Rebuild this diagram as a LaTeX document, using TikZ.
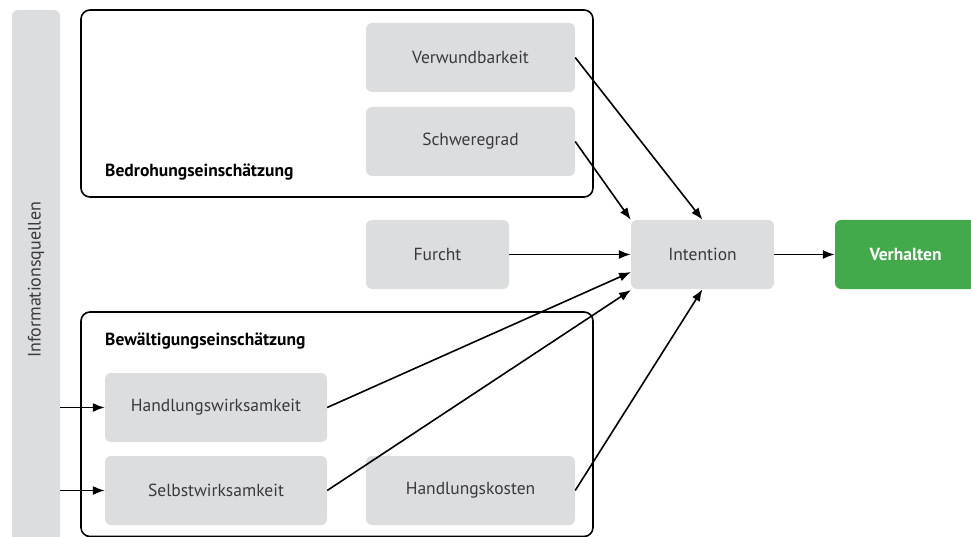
\documentclass[tikz,border=0pt]{standalone}
\usepackage{fontspec}
\setmainfont{PT Sans}
\usetikzlibrary{arrows.meta}
\definecolor{boxgray}{HTML}{DCDDDF}
\definecolor{txtgray}{HTML}{3A3A3C}
\definecolor{actgreen}{HTML}{43AA4B}
\begin{document}
\begin{tikzpicture}[x=1pt,y=-1pt,
  box/.style={fill=boxgray, rounded corners=6pt, inner sep=0pt, text=txtgray,
              font=\fontsize{17.5}{20}\selectfont},
  group/.style={draw=black, line width=1.6pt, rounded corners=9pt},
  grouplabel/.style={anchor=base west, inner sep=0pt, font=\fontsize{17.5}{20}\selectfont\bfseries},
  link/.style={line width=1.6pt, -{Latex[length=12pt,width=9pt]}}]
\useasboundingbox (0,0) rectangle (971,537);

% information sources bar on the left
\fill[boxgray, rounded corners=6pt] (12,10) rectangle (60,570);
\node[rotate=90, text=txtgray, font=\fontsize{18}{20}\selectfont] (info) at (36,280) {Informationsquellen};

% threat appraisal group
\draw[group] (81,10) rectangle (593,197);
\node[grouplabel] (threat) at (105,177) {Bedrohungseinschätzung};

% coping appraisal group
\draw[group] (81,312) rectangle (593,536.5);
\node[grouplabel] (coping) at (105,345) {Bewältigungseinschätzung};

% components
\node[box, minimum width=209pt, minimum height=69pt] (verw) at (470.5,57.5) {Verwundbarkeit};
\node[box, minimum width=209pt, minimum height=69pt] (schw) at (470.5,141.5) {Schweregrad};
\node[box, minimum width=143pt, minimum height=69pt] (furcht) at (437.5,254.5) {Furcht};
\node[box, minimum width=143pt, minimum height=69pt] (intent) at (702.5,254.5) {Intention};
\node[box, fill=actgreen, text=white, font=\fontsize{17.5}{20}\selectfont\bfseries,
      minimum width=150pt, minimum height=69pt, text width=135pt, align=left] (verh) at (910,254.5) {\hspace*{27pt}Verhalten};
\node[box, minimum width=222pt, minimum height=69pt] (handw) at (216,407.5) {Handlungswirksamkeit};
\node[box, minimum width=222pt, minimum height=69pt] (selbst) at (216,490.5) {Selbstwirksamkeit};
\node[box, minimum width=209pt, minimum height=69pt] (kosten) at (470.5,490.5) {Handlungskosten};

% entry points of the connectors
\coordinate (src1) at (60,407.5);
\coordinate (src2) at (60,490.5);
\coordinate (inA) at (631,272);
\coordinate (inB) at (631,290);

% connectors
\draw[link] (src1) -- (handw.west);
\draw[link] (src2) -- (selbst.west);
\draw[link] (verw.east) -- (intent.north);
\draw[link] (schw.east) -- (intent.north west);
\draw[link] (furcht.east) -- (intent.west);
\draw[link] (handw.east) -- (inA);
\draw[link] (selbst.east) -- (inB);
\draw[link] (kosten.east) -- (intent.south);
\draw[link] (intent.east) -- (verh.west);
\end{tikzpicture}
\end{document}
